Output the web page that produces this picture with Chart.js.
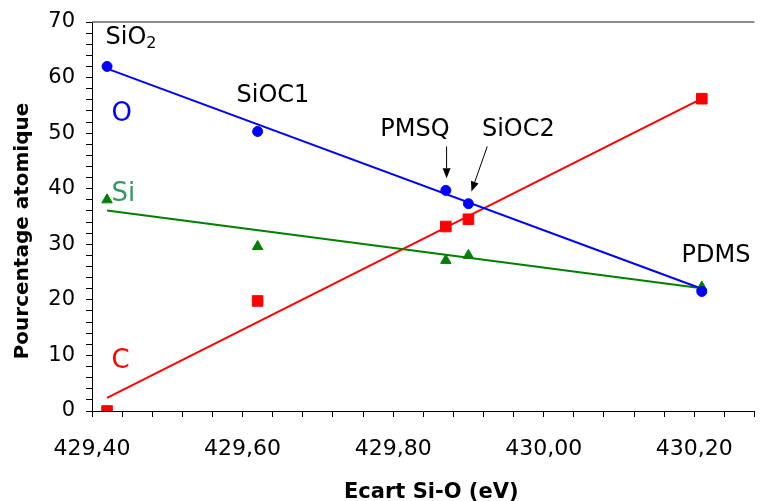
<!DOCTYPE html>
<html>
<head>
<meta charset="utf-8">
<script src="https://cdn.jsdelivr.net/npm/chart.js@4/dist/chart.umd.min.js"></script>
<style>
  body { margin: 0; background: #fff; }
  #wrap { width: 763px; height: 501px; }
</style>
</head>
<body>
<div id="wrap"><canvas id="chart"></canvas></div>
<script>
// --- data ---
const energy = [429.42, 429.62, 429.87, 429.90, 430.21];   // Ecart Si-O (eV)
const oxygen = [62.0, 50.3, 39.7, 37.3, 21.5];
const silicon = [38.0, 29.6, 27.1, 28.0, 22.3];
const carbon = [0.0, 19.8, 33.2, 34.5, 56.2];
const materials = ['SiO2', 'SiOC1', 'PMSQ', 'SiOC2', 'PDMS'];

// trend lines (end points)
const fitX = [429.42, 430.21];
const fitO = [61.6, 22.0];
const fitSi = [36.1, 22.1];
const fitC = [2.35, 56.2];

const xMin = 429.40, xMax = 430.28, xStep = 0.04, xLabelStep = 0.2;
const yMin = 0, yMax = 70, yStep = 2, yLabelStep = 10;

// text labels placed in data units
const notes = [
  { text: 'SiO', sub: '2', x: 429.418, y: 65.97, color: '#000', size: 24 },
  { text: 'SiOC1', x: 429.592, y: 55.6, color: '#000', size: 24 },
  { text: 'PMSQ', x: 429.783, y: 49.5, color: '#000', size: 24 },
  { text: 'SiOC2', x: 429.918, y: 49.5, color: '#000', size: 24 },
  { text: 'PDMS', x: 430.183, y: 26.9, color: '#000', size: 24 },
  { text: 'O', x: 429.426, y: 52.1, color: '#0000ff', size: 26 },
  { text: 'Si', x: 429.426, y: 37.8, color: '#339966', size: 26 },
  { text: 'C', x: 429.426, y: 7.65, color: '#ff0000', size: 26 }
];
const arrows = [
  { from: [429.871, 47.6], to: [429.871, 41.9] },
  { from: [429.925, 47.6], to: [429.904, 39.5] }
];

const pts = (xs, ys) => xs.map((v, i) => ({ x: v, y: ys[i] }));

const annotate = {
  id: 'annotate',
  afterDraw(chart) {
    const { ctx, chartArea, scales: { x, y } } = chart;
    ctx.save();

    // top frame line
    ctx.strokeStyle = '#666';
    ctx.lineWidth = 1.5;
    ctx.beginPath();
    ctx.moveTo(chartArea.left, chartArea.top);
    ctx.lineTo(chartArea.right, chartArea.top);
    ctx.stroke();

    ctx.textAlign = 'left';
    ctx.textBaseline = 'alphabetic';
    notes.forEach(n => {
      const px = x.getPixelForValue(n.x), py = y.getPixelForValue(n.y);
      ctx.fillStyle = n.color;
      ctx.font = n.size + 'px "DejaVu Sans"';
      ctx.fillText(n.text, px, py);
      if (n.sub) {
        const w = ctx.measureText(n.text).width;
        ctx.font = '16px "DejaVu Sans"';
        ctx.fillText(n.sub, px + w, py + 4);
      }
    });

    // arrows
    ctx.strokeStyle = '#000';
    ctx.fillStyle = '#000';
    ctx.lineWidth = 1;
    arrows.forEach(a => {
      const x1 = x.getPixelForValue(a.from[0]), y1 = y.getPixelForValue(a.from[1]);
      const x2 = x.getPixelForValue(a.to[0]), y2 = y.getPixelForValue(a.to[1]);
      const ang = Math.atan2(y2 - y1, x2 - x1);
      const len = 10, half = 4;
      const bx = x2 - len * Math.cos(ang), by = y2 - len * Math.sin(ang);
      ctx.beginPath();
      ctx.moveTo(x1, y1);
      ctx.lineTo(bx, by);
      ctx.stroke();
      ctx.beginPath();
      ctx.moveTo(x2, y2);
      ctx.lineTo(bx + half * Math.sin(ang), by - half * Math.cos(ang));
      ctx.lineTo(bx - half * Math.sin(ang), by + half * Math.cos(ang));
      ctx.closePath();
      ctx.fill();
    });

    // axis titles
    ctx.fillStyle = '#000';
    ctx.font = 'bold 21px "DejaVu Sans"';
    ctx.textAlign = 'center';
    ctx.fillText('Ecart Si-O (eV)', (chartArea.left + chartArea.right) / 2 + 8, 497.5);

    ctx.font = 'bold 20px "DejaVu Sans"';
    ctx.translate(28, (chartArea.top + chartArea.bottom) / 2 + 14.5);
    ctx.rotate(-Math.PI / 2);
    ctx.fillText('Pourcentage atomique', 0, 0);

    ctx.restore();
  }
};

Chart.defaults.font.family = '"DejaVu Sans"';
Chart.defaults.color = '#000';

new Chart(document.getElementById('chart'), {
  type: 'scatter',
  data: {
    datasets: [
      {
        label: 'O',
        data: pts(energy, oxygen),
        pointStyle: 'circle',
        pointRadius: 5,
        backgroundColor: '#0000ff',
        borderColor: '#0000ff',
        borderWidth: 1
      },
      {
        label: 'C',
        data: pts(energy, carbon),
        pointStyle: 'rect',
        pointRadius: 7.5,
        backgroundColor: '#ff0000',
        borderColor: '#ff0000',
        borderWidth: 1
      },
      {
        label: 'Si',
        data: pts(energy, silicon),
        pointStyle: 'triangle',
        pointRadius: 6,
        backgroundColor: '#008000',
        borderColor: '#008000',
        borderWidth: 1
      },
      {
        label: 'O fit',
        data: pts(fitX, fitO),
        showLine: true,
        pointRadius: 0,
        borderColor: '#0000ff',
        borderWidth: 2
      },
      {
        label: 'Si fit',
        data: pts(fitX, fitSi),
        showLine: true,
        pointRadius: 0,
        borderColor: '#008000',
        borderWidth: 2
      },
      {
        label: 'C fit',
        data: pts(fitX, fitC),
        showLine: true,
        pointRadius: 0,
        borderColor: '#ff0000',
        borderWidth: 2
      }
    ]
  },
  options: {
    responsive: true,
    maintainAspectRatio: false,
    animation: false,
    layout: { padding: { top: 22, right: -2.5, left: 0, bottom: 0 } },
    scales: {
      x: {
        type: 'linear',
        min: xMin,
        max: xMax,
        afterFit: s => { s.height = 90; s.paddingLeft = 0; s.paddingRight = 0; },
        border: { color: '#000', width: 1 },
        grid: { drawOnChartArea: false, tickLength: 6, color: '#000' },
        ticks: {
          stepSize: xStep,
          autoSkip: false,
          maxRotation: 0,
          minRotation: 0,
          padding: 19,
          font: { size: 22 },
          callback: v => {
            const k = v / xLabelStep;
            return Math.abs(k - Math.round(k)) < 1e-6 ? v.toFixed(2).replace('.', ',') : '';
          }
        }
      },
      y: {
        min: yMin,
        max: yMax,
        afterFit: s => { s.width = 92; s.paddingTop = 0; s.paddingBottom = 0; },
        border: { color: '#000', width: 1 },
        grid: { drawOnChartArea: false, tickLength: 6, color: '#000' },
        ticks: {
          stepSize: yStep,
          autoSkip: false,
          padding: 11,
          font: { size: 21 },
          callback: v => (v % yLabelStep === 0 ? v : '')
        }
      }
    },
    plugins: {
      legend: { display: false },
      tooltip: { enabled: false }
    }
  },
  plugins: [annotate]
});
</script>
</body>
</html>
